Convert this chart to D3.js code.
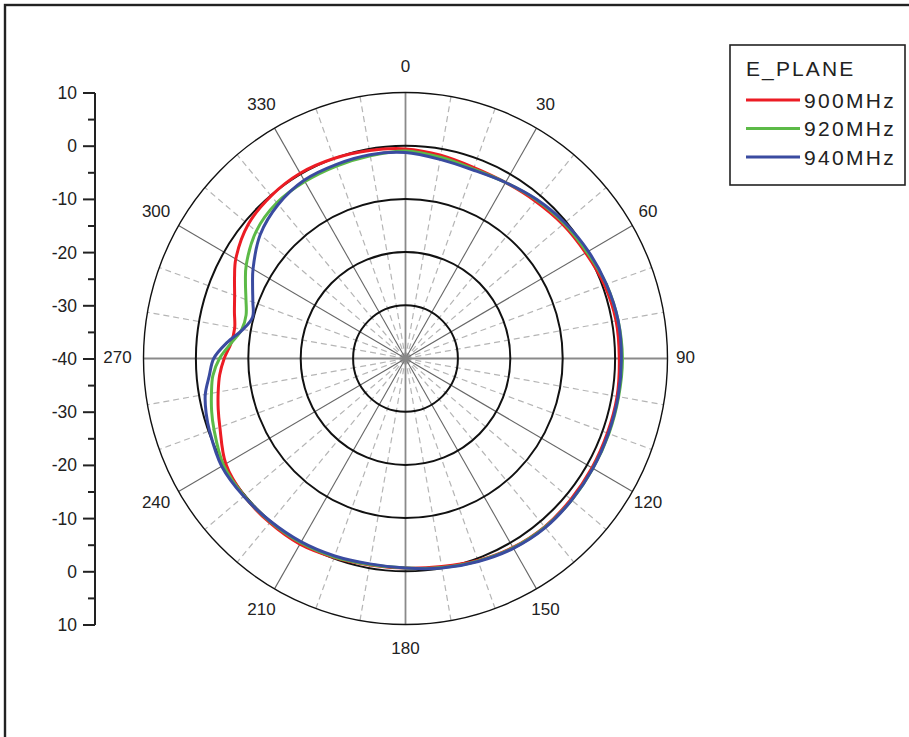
<!DOCTYPE html>
<html>
<head>
<meta charset="utf-8">
<script src="https://cdn.jsdelivr.net/npm/d3@7/dist/d3.min.js"></script>
<style>
  html, body { margin: 0; padding: 0; background: #fff; }
  svg { display: block; font-family: "Liberation Sans", Arial, sans-serif; }
</style>
</head>
<body>
<svg id="chart" width="909" height="737"></svg>
<script>
// ---- data ----
const angles = [0,10,20,30,40,50,60,70,80,90,100,110,120,130,140,150,160,170,180,190,200,210,220,230,240,250,255,260,265,270,275,280,285,290,295,300,310,320,330,340,350];
const seriesNames = ["900MHz", "920MHz", "940MHz"];
const gain900 = [-0.6,-1.2,-1.8,-1.8,-1.4,-0.8,-0.3,0.4,0.8,0.8,1.0,1.0,1.1,1.2,1.3,1.0,0.4,-0.3,-0.6,-0.6,-0.2,0.3,0.3,0.2,-0.4,-2.3,-3.0,-3.7,-4.4,-5.4,-6.6,-6.9,-6.2,-5.3,-4.0,-2.6,-0.8,-0.1,0.2,0.0,-0.3];
const gain920 = [-1.0,-1.6,-2.1,-1.8,-1.1,-0.5,0.0,0.8,1.2,1.4,1.3,1.3,1.3,1.4,1.4,1.1,0.5,-0.1,-0.6,-0.7,-0.3,0.0,0.1,0.2,0.1,-1.1,-1.7,-2.4,-3.1,-4.5,-6.6,-8.3,-8.5,-7.6,-6.3,-4.9,-2.8,-1.8,-1.6,-1.5,-1.3];
const gain940 = [-1.3,-2.0,-2.3,-1.8,-1.0,-0.3,0.3,0.8,1.2,1.2,1.2,1.2,1.3,1.4,1.5,1.2,0.6,0.0,-0.6,-0.8,-0.5,-0.2,0.0,0.3,0.5,-0.2,-0.6,-1.2,-2.4,-3.4,-5.8,-8.5,-9.8,-9.0,-7.8,-6.4,-3.8,-2.2,-1.3,-1.2,-1.1];
const ringLevels = [-30, -20, -10, 0, 10];
const angleLabels = [0,30,60,90,120,150,180,210,240,270,300,330];
const axisTickValues = [10,0,-10,-20,-30,-40,-30,-20,-10,0,10];
const legendTitle = "E_PLANE";
const colors = ["#ec1c24", "#5cba47", "#3a4ba0"];

// ---- layout ----
const svg = d3.select("#chart");
const cx = 405.5, cy = 358.5;
const ky = 266 / 262; // slight vertical stretch of original figure
const r = d3.scaleLinear().domain([-40, 10]).range([0, 262]);
const rad = d => d * Math.PI / 180;
const px = (a, v) => cx + r(v) * Math.sin(rad(a));
const py = (a, v) => cy - r(v) * Math.cos(rad(a)) * ky;

// frame
svg.append("rect").attr("x", 5).attr("y", 5).attr("width", 1000).attr("height", 1000)
  .attr("fill", "none").attr("stroke", "#222").attr("stroke-width", 2.4);

// dashed spokes
const g = svg.append("g");
d3.range(0, 360, 10).filter(a => a % 30 !== 0).forEach(a => {
  g.append("line").attr("x1", cx).attr("y1", cy).attr("x2", px(a, 10)).attr("y2", py(a, 10))
    .attr("stroke", "#b5b5b5").attr("stroke-width", 1.2).attr("stroke-dasharray", "6,4");
});
// solid spokes
d3.range(0, 360, 30).forEach(a => {
  const main = a % 90 === 0;
  g.append("line").attr("x1", cx).attr("y1", cy).attr("x2", px(a, 10)).attr("y2", py(a, 10))
    .attr("stroke", main ? "#8a8a8a" : "#666").attr("stroke-width", main ? 1.8 : 1.1);
});
// rings
ringLevels.forEach(v => {
  g.append("ellipse").attr("cx", cx).attr("cy", cy).attr("rx", r(v)).attr("ry", r(v) * ky)
    .attr("fill", "none").attr("stroke", "#111").attr("stroke-width", v === 10 ? 1.4 : 2);
});
g.append("circle").attr("cx", cx).attr("cy", cy).attr("r", 4).attr("fill", "#888");

// angle labels
const labRx = 284, labRy = 291;
angleLabels.forEach(a => {
  const s = Math.sin(rad(a)), c = Math.cos(rad(a));
  svg.append("text")
    .attr("x", cx + labRx * s - 4 * Math.abs(s))
    .attr("y", cy - labRy * c - 1.5)
    .attr("text-anchor", "middle").attr("dominant-baseline", "central")
    .attr("font-size", 17).attr("fill", "#222").text(a);
});

// data curves
const allSeries = [gain900, gain920, gain940];
const line = d3.line().curve(d3.curveCatmullRomClosed.alpha(0.5));
allSeries.forEach((vals, i) => {
  const pts = angles.map((a, j) => [px(a, vals[j]), py(a, vals[j])]);
  svg.append("path").attr("d", line(pts)).attr("fill", "none")
    .attr("stroke", colors[i]).attr("stroke-width", 3).attr("stroke-linejoin", "round");
});

// left axis
const yAxisScale = d3.scaleLinear().domain([0, axisTickValues.length - 1]).range([93, 625]);
const ax = svg.append("g");
const axX = 95;
ax.append("line").attr("x1", axX).attr("x2", axX).attr("y1", yAxisScale(0)).attr("y2", yAxisScale(axisTickValues.length - 1))
  .attr("stroke", "#222").attr("stroke-width", 2);
axisTickValues.forEach((v, i) => {
  const y = yAxisScale(i);
  ax.append("line").attr("x1", axX - 12).attr("x2", axX).attr("y1", y).attr("y2", y).attr("stroke", "#222").attr("stroke-width", 2);
  ax.append("text").attr("x", 77).attr("y", y).attr("text-anchor", "end").attr("dominant-baseline", "central")
    .attr("font-size", 17.5).attr("fill", "#222").text(v);
  if (i < axisTickValues.length - 1) {
    const ym = yAxisScale(i + 0.5);
    ax.append("line").attr("x1", axX - 7).attr("x2", axX).attr("y1", ym).attr("y2", ym).attr("stroke", "#222").attr("stroke-width", 2);
  }
});

// legend
const lg = svg.append("g");
lg.append("rect").attr("x", 730).attr("y", 45).attr("width", 175).attr("height", 140)
  .attr("fill", "#fff").attr("stroke", "#222").attr("stroke-width", 1.6);
lg.append("text").attr("x", 746).attr("y", 76).attr("font-size", 21).attr("letter-spacing", 2.1)
  .attr("fill", "#222").text(legendTitle);
seriesNames.forEach((n, i) => {
  const y = 100 + i * 28.5;
  lg.append("line").attr("x1", 746).attr("x2", 800).attr("y1", y).attr("y2", y)
    .attr("stroke", colors[i]).attr("stroke-width", 3);
  lg.append("text").attr("x", 804).attr("y", y).attr("dominant-baseline", "central")
    .attr("font-size", 21).attr("letter-spacing", 2.3).attr("fill", "#222").text(n);
});
</script>
</body>
</html>
